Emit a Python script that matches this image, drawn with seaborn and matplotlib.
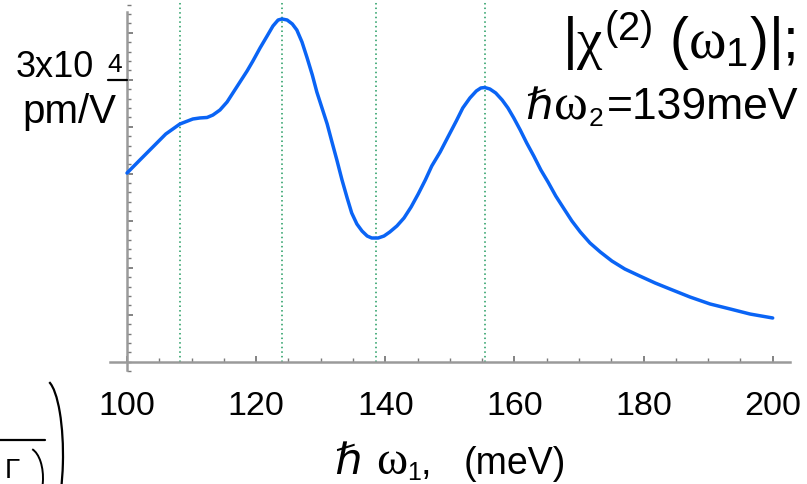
import matplotlib
matplotlib.use("Agg")
import matplotlib.pyplot as plt
from matplotlib.ticker import MultipleLocator, NullFormatter
from matplotlib.patches import Arc
from matplotlib.lines import Line2D
import pandas as pd
import seaborn as sns

# Photon energy of the first field, hbar*omega_1 (meV)
omega1_meV = [100.0, 102.0, 104.0, 106.0, 108.2, 110.2, 111.3, 112.4, 113.3, 114.4,
              115.5, 116.4, 117.5, 118.6, 119.5, 120.6, 121.7, 122.6, 123.4, 124.0,
              124.8, 125.6, 126.3, 127.1, 127.9, 128.7, 129.4, 130.2, 131.0, 131.7,
              132.5, 133.3, 134.1, 134.8, 135.6, 136.4, 137.2, 137.9, 138.9, 139.8,
              140.7, 141.8, 142.9, 144.0, 145.1, 146.2, 147.2, 148.5, 149.7, 151.0,
              152.0, 153.1, 154.1, 154.8, 155.4, 156.2, 157.1, 158.1, 159.0, 159.9,
              160.9, 161.9, 163.0, 164.1, 165.2, 166.4, 167.7, 168.9, 170.2, 171.7,
              173.3, 175.1, 177.1, 179.4, 181.8, 184.1, 187.2, 190.3, 193.4, 196.5,
              200.0]
# |chi(2)(omega_1)| in units of 1e4 pm/V, at hbar*omega_2 = 139 meV
chi2_abs = [2.007, 2.146, 2.284, 2.422, 2.529, 2.582, 2.593, 2.598, 2.624, 2.678,
            2.763, 2.859, 2.976, 3.093, 3.199, 3.337, 3.465, 3.571, 3.635, 3.646,
            3.635, 3.593, 3.529, 3.401, 3.231, 3.050, 2.869, 2.699, 2.529, 2.348,
            2.146, 1.933, 1.741, 1.582, 1.465, 1.390, 1.337, 1.316, 1.316, 1.337,
            1.380, 1.444, 1.529, 1.646, 1.784, 1.933, 2.082, 2.231, 2.390, 2.561,
            2.699, 2.805, 2.880, 2.912, 2.917, 2.901, 2.859, 2.784, 2.699, 2.593,
            2.465, 2.327, 2.188, 2.039, 1.912, 1.763, 1.624, 1.497, 1.380, 1.263,
            1.167, 1.071, 0.986, 0.912, 0.837, 0.773, 0.688, 0.614, 0.561, 0.507,
            0.465]
# Resonance positions marked with dotted guides (meV)
resonances_meV = [108.2, 124.0, 138.5, 155.4]
# Labelled ticks on the energy axis
x_ticks = [100, 120, 140, 160, 180, 200]
# Level carrying the scale label (1e4 pm/V)
scale_level = 3.0

df = pd.DataFrame({"omega1": omega1_meV, "chi2": chi2_abs})

W, H = 807, 484
sns.set_theme(style="white")
plt.rcParams.update({
    "font.family": ["Liberation Sans", "DejaVu Sans"],
    "text.color": "black",
    "xtick.bottom": True,
    "ytick.left": True,
    "mathtext.fontset": "custom",
    "mathtext.rm": "Liberation Sans",
    "mathtext.it": "Liberation Serif",
    "mathtext.bf": "Liberation Sans:bold",
})

fig = plt.figure(figsize=(W / 100, H / 100), dpi=100)

# pixel geometry of the plotting frame
ax_l, ax_r, ax_t, ax_b = 100, 800, 0, 375
ax = fig.add_axes([ax_l / W, 1 - ax_b / H, (ax_r - ax_l) / W, (ax_b - ax_t) / H])

px_per_meV = 6.457          # horizontal scale
x0_px = 127                 # pixel of 100 meV
px_per_unit = 94.0          # vertical scale per 1e4 pm/V
y0_px = 361.7               # pixel of zero

def xd(px):
    return 100 + (px - x0_px) / px_per_meV

def yd(py):
    return (y0_px - py) / px_per_unit

ax.set_xlim(xd(ax_l), xd(ax_r))
ax.set_ylim(yd(ax_b), yd(ax_t))

# dotted resonance guides
for r in resonances_meV:
    ax.plot([r, r], [0, yd(ax_t)], color="#1f9a5e", lw=1.1,
            ls=(0, (1, 2.0)), zorder=1)

sns.lineplot(data=df, x="omega1", y="chi2", ax=ax, color="#0a64f5",
             linewidth=2.5, zorder=3)

# axis frame
for s in ["top", "right"]:
    ax.spines[s].set_visible(False)
ax.spines["left"].set_position(("data", 100))
ax.spines["bottom"].set_position(("data", 0))
ax.spines["left"].set_bounds(yd(370), yd(12))
ax.spines["bottom"].set_bounds(xd(110), xd(790))
for s in ["left", "bottom"]:
    ax.spines[s].set_color("#9a9a9a")
    ax.spines[s].set_linewidth(1.8)

ax.set_xticks(x_ticks)
ax.xaxis.set_minor_locator(MultipleLocator(5))
ax.set_yticks([v / 2 for v in range(1, 8)])
ax.yaxis.set_minor_locator(MultipleLocator(0.1))
ax.yaxis.set_major_formatter(NullFormatter())
ax.tick_params(axis="both", which="both", direction="in", color="#7a7a7a")
ax.tick_params(axis="x", which="major", length=4, width=1.3, labelsize=24.5,
               pad=21, labelcolor="black")
ax.tick_params(axis="x", which="minor", length=3, width=1)
ax.tick_params(axis="y", which="major", length=4, width=1.3)
ax.tick_params(axis="y", which="minor", length=3, width=1)
ax.set_xlabel("")
ax.set_ylabel("")

# scale mark on the vertical axis
ax.plot([xd(108), 100], [scale_level, scale_level], color="black", lw=1.6,
        clip_on=False, zorder=4)

def ft(px, py, s, **kw):
    fig.text(px / W, 1 - py / H, s, **kw)

SERIF = ["Liberation Serif", "DejaVu Serif"]
HBAR = ["DejaVu Sans"]

ft(94, 77, "3x10", fontsize=26, ha="right", va="baseline")
ft(107, 72, "4", fontsize=19, ha="left", va="baseline")
ft(116, 123, "pm/V", fontsize=29, ha="right", va="baseline")

# title block
ft(795, 58, r"$|\chi^{(2)}\ (\omega_1)|;$", fontsize=41, ha="right", va="baseline")
ft(525, 119, "\u210f", fontsize=31, family=HBAR, ha="left", va="baseline")
ft(554, 119, "\u03c9", fontsize=37, family=SERIF, ha="left", va="baseline")
ft(589, 126, "2", fontsize=19, ha="left", va="baseline")
ft(798, 119, "=139meV", fontsize=32, ha="right", va="baseline")

# energy axis label
ft(334, 474, "\u210f", fontsize=31, family=HBAR, ha="left", va="baseline")
ft(376, 474, "\u03c9", fontsize=34, family=SERIF, ha="left", va="baseline")
ft(407, 480, "1", fontsize=18, ha="left", va="baseline")
ft(421, 474, ",", fontsize=27, ha="left", va="baseline")
ft(566, 474, "(meV)", fontsize=27, ha="right", va="baseline")

# edge of an adjacent formula
fig.add_artist(Arc((45 / W, 1 - 455 / H), 36 / W, 150 / H, theta1=-90, theta2=88,
                   transform=fig.transFigure, color="black", lw=1.6))
fig.add_artist(Line2D([0, 45 / W], [1 - 440 / H, 1 - 440 / H],
                      transform=fig.transFigure, color="black", lw=1.6))
fig.add_artist(Arc((28 / W, 1 - 478 / H), 30 / W, 60 / H, theta1=-90, theta2=85,
                   transform=fig.transFigure, color="black", lw=1.4))
ft(4, 478, r"$\Gamma$", fontsize=20, ha="left", va="baseline")

fig.savefig("out.png", dpi=100)
